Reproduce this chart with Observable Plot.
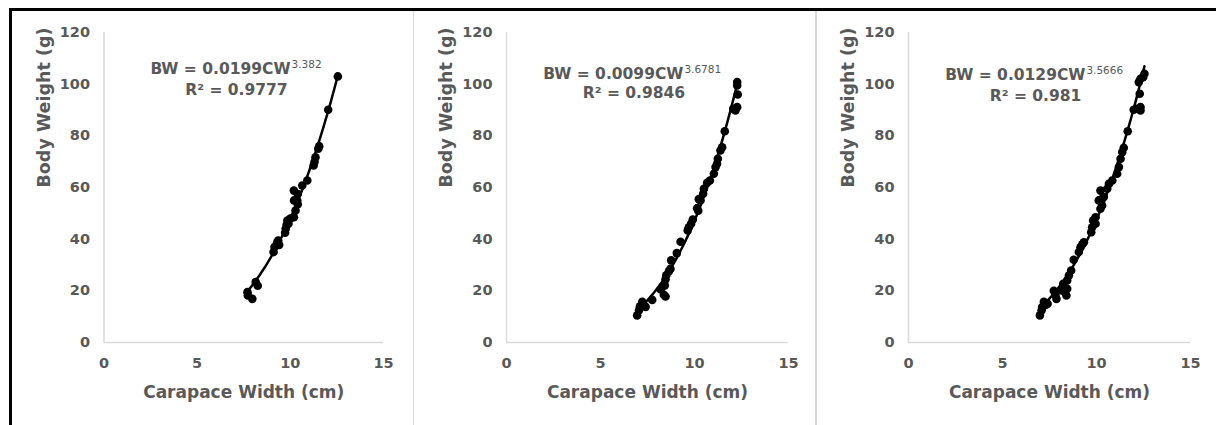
<!DOCTYPE html>
<html><head><meta charset="utf-8">
<script src="https://cdn.jsdelivr.net/npm/d3@7"></script>
<script src="https://cdn.jsdelivr.net/npm/@observablehq/plot@0.6"></script>
<style>
html,body{margin:0;padding:0;background:#fff;}
#wrap{position:relative;width:1216px;height:425px;overflow:hidden;background:#fff;font-family:"DejaVu Sans",sans-serif;}
.panel{position:absolute;top:0;}
.frameTop{position:absolute;left:9px;top:8px;width:1207px;height:3px;background:#000;}
.frameLeft{position:absolute;left:9px;top:8px;width:3px;height:417px;background:#000;}
.divider{position:absolute;top:11px;width:1.5px;height:414px;background:#d9d9d9;}
</style></head>
<body>
<div id="wrap">
  <div class="panel" id="p1" style="left:0px"></div>
  <div class="panel" id="p2" style="left:405px"></div>
  <div class="panel" id="p3" style="left:810px"></div>
  <div class="frameTop"></div>
  <div class="frameLeft"></div>
  <div class="divider" style="left:412.5px"></div>
  <div class="divider" style="left:815px"></div>
</div>
<script>
// ---- data ----
const xTicks = [0, 5, 10, 15];
const yTicks = [0, 20, 40, 60, 80, 100, 120];
const xTitle = "Carapace Width (cm)";
const yTitle = "Body Weight (g)";

// Panel 1
const cw1 = [7.70, 7.72, 7.96, 8.14, 8.25, 9.10, 9.15, 9.30, 9.35, 9.40, 9.72, 9.75, 9.80, 9.84, 9.90, 10.00, 10.19, 10.28, 10.20, 10.37, 10.40, 10.19, 10.40, 10.64, 10.91, 11.25, 11.30, 11.35, 11.50, 11.55, 12.03, 12.55];
const bw1 = [19.5, 18.2, 16.9, 23.4, 22.0, 35.0, 37.0, 38.8, 39.5, 37.8, 42.5, 44.0, 45.5, 47.2, 46.0, 48.0, 48.5, 51.1, 55.0, 55.0, 53.5, 58.8, 57.5, 60.8, 62.7, 68.5, 70.0, 71.7, 75.0, 76.0, 90.1, 103.0];
const eqMain1 = "BW = 0.0199CW", eqExp1 = "3.382", eqR1 = "R\u00B2 = 0.9777";
const coefA1 = 0.0199, coefB1 = 3.382;

// Panel 2
const cw2 = [6.95, 7.05, 7.10, 7.22, 7.30, 7.40, 7.75, 8.20, 8.28, 8.37, 8.46, 8.42, 8.46, 8.50, 8.64, 8.72, 8.76, 9.06, 9.26, 9.64, 9.70, 9.82, 9.91, 10.14, 10.20, 10.23, 10.32, 10.46, 10.50, 10.67, 10.82, 11.03, 11.12, 11.20, 11.24, 11.38, 11.47, 11.61, 12.06, 12.18, 12.27, 12.30, 12.27, 12.27];
const bw2 = [10.5, 12.5, 14.0, 15.8, 14.3, 13.8, 16.5, 20.5, 21.5, 18.5, 17.8, 22.1, 24.5, 26.0, 27.6, 28.5, 31.8, 34.6, 39.0, 43.4, 44.6, 46.0, 47.6, 52.0, 51.0, 55.5, 55.0, 57.6, 59.5, 61.8, 62.7, 65.3, 67.9, 69.2, 71.1, 74.3, 75.6, 81.8, 90.5, 89.8, 91.1, 96.0, 99.5, 100.8];
const eqMain2 = "BW = 0.0099CW", eqExp2 = "3.6781", eqR2 = "R\u00B2 = 0.9846";
const coefA2 = 0.0099, coefB2 = 3.6781;

// Panel 3
const cw3 = [6.99, 7.08, 7.11, 7.20, 7.30, 7.40, 7.73, 7.82, 7.87, 8.17, 8.23, 8.40, 8.44, 8.44, 8.53, 8.65, 8.79, 9.06, 9.15, 9.25, 9.33, 9.72, 9.77, 9.82, 9.95, 9.95, 10.12, 10.21, 10.21, 10.30, 10.30, 10.39, 10.57, 10.66, 10.84, 11.10, 11.19, 11.28, 11.37, 11.45, 11.66, 11.98, 12.16, 12.34, 12.34, 12.30, 12.25, 12.34, 12.48, 12.55];
const bw3 = [10.5, 12.5, 13.7, 15.8, 14.5, 15.0, 20.0, 18.5, 16.9, 20.1, 22.7, 18.2, 20.8, 24.0, 25.9, 27.9, 32.0, 35.0, 36.9, 38.0, 38.8, 42.7, 44.6, 47.2, 46.0, 48.5, 55.0, 51.8, 58.8, 53.0, 55.6, 56.3, 59.5, 61.4, 62.7, 65.3, 67.9, 71.1, 73.7, 75.4, 81.8, 90.1, 90.5, 89.8, 91.1, 96.3, 100.8, 102.1, 102.7, 104.0];
const eqMain3 = "BW = 0.0129CW", eqExp3 = "3.5666", eqR3 = "R\u00B2 = 0.981";
const coefA3 = 0.0129, coefB3 = 3.5666;

// ---- layout (pixels / annotation anchors) ----
const layouts = [
  {id: "p1", width: 405, ml: 103.5, plotW: 279.5, jx: 10.01, l1y: 106.0, l2x: 7.11, l2y: 97.9},
  {id: "p2", width: 405, ml: 101, plotW: 282, jx: 9.41, l1y: 104.1, l2x: 6.78, l2y: 96.4},
  {id: "p3", width: 406, ml: 98, plotW: 282, jx: 9.41, l1y: 103.7, l2x: 6.76, l2y: 95.6}
];
const panels = [
  {cw: cw1, bw: bw1, eqMain: eqMain1, eqExp: eqExp1, eqR: eqR1, a: coefA1, b: coefB1},
  {cw: cw2, bw: bw2, eqMain: eqMain2, eqExp: eqExp2, eqR: eqR2, a: coefA2, b: coefB2},
  {cw: cw3, bw: bw3, eqMain: eqMain3, eqExp: eqExp3, eqR: eqR3, a: coefA3, b: coefB3}
];

const gray = "#595959";
const font = '"DejaVu Sans", sans-serif';

function makePanel(p, L) {
  const pts = p.cw.map((x, i) => ({x, y: p.bw[i]}));
  const [lo, hi] = d3.extent(p.cw);
  // power trendline from the equation printed on the chart
  const trend = d3.range(0, 101).map(i => {
    const x = lo + (hi - lo) * i / 100;
    return {x, y: p.a * Math.pow(x, p.b)};
  });
  return Plot.plot({
    width: L.width, height: 425,
    marginLeft: L.ml, marginRight: L.width - L.ml - L.plotW,
    marginTop: 32, marginBottom: 83,
    style: {background: "transparent", fontFamily: font, color: gray, overflow: "visible"},
    x: {domain: [0, 15], axis: null},
    y: {domain: [0, 120], axis: null},
    marks: [
      Plot.ruleY([0], {stroke: "#d9d9d9", strokeWidth: 1.5}),
      Plot.ruleX([0], {stroke: "#d9d9d9", strokeWidth: 1.5}),
      // tick labels drawn through the x / y scales
      Plot.text(xTicks, {x: d => d, text: d => String(d), frameAnchor: "bottom", dy: 25, fontSize: 14.5, fontWeight: "bold", fill: gray}),
      Plot.text(yTicks, {y: d => d, text: d => String(d), frameAnchor: "left", textAnchor: "end", dx: -14, fontSize: 14.5, fontWeight: "bold", fill: gray}),
      Plot.text([xTitle], {text: d => d, frameAnchor: "bottom", dy: 55, fontSize: 17, fontWeight: "bold", fill: gray}),
      Plot.text([yTitle], {text: d => d, frameAnchor: "left", rotate: -90, dx: -60, fontSize: 17.5, fontWeight: "bold", fill: gray}),
      Plot.line(trend, {x: "x", y: "y", stroke: "#000", strokeWidth: 2.5}),
      Plot.dot(pts, {x: "x", y: "y", r: 4.3, fill: "#000", stroke: "none"}),
      Plot.text([{x: L.jx, y: L.l1y, t: p.eqMain}], {x: "x", y: "y", text: "t", textAnchor: "end", fontSize: 15.5, fontWeight: "bold", fill: gray}),
      Plot.text([{x: L.jx, y: L.l1y, t: p.eqExp}], {x: "x", y: "y", text: "t", textAnchor: "start", dy: -4, dx: 1, fontSize: 10.5, fontWeight: "normal", fill: gray}),
      Plot.text([{x: L.l2x, y: L.l2y, t: p.eqR}], {x: "x", y: "y", text: "t", textAnchor: "middle", fontSize: 15.5, fontWeight: "bold", fill: gray})
    ]
  });
}

panels.forEach((p, i) => {
  document.getElementById(layouts[i].id).appendChild(makePanel(p, layouts[i]));
});
</script>
</body></html>
